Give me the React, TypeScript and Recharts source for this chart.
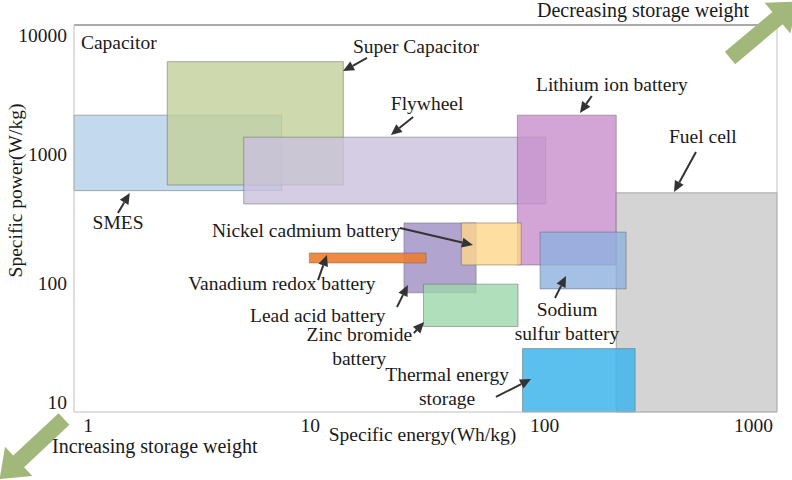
import { ComposedChart, XAxis, YAxis, ReferenceArea, ReferenceLine, ReferenceDot, Label } from 'recharts'

// storage technologies, specific energy (Wh/kg) vs specific power (W/kg)
const techNames = [
  'SMES',
  'Super Capacitor',
  'Flywheel',
  'Lithium ion battery',
  'Fuel cell',
  'Lead acid battery',
  'Nickel cadmium battery',
  'Vanadium redox battery',
  'Zinc bromide battery',
  'Sodium sulfur battery',
  'Thermal energy storage',
]
const energyLow = [1, 2.5, 5.3, 78, 206, 25.6, 45, 10.1, 31, 97.5, 82]
const energyHigh = [7.7, 14.1, 103, 206, 1000, 52, 81, 31.8, 78.5, 227, 248]
const powerLow = [520, 575, 410, 138, 10, 84, 138, 143, 46, 90, 10]
const powerHigh = [2000, 5200, 1350, 2000, 500, 292, 292, 171, 98, 248, 31]

const xTicks = [1, 10, 100, 1000]
const yTicks = [10, 100, 1000, 10000]

// annotation texts and where they sit (data coords of text baseline)
const labelText = [
  'Capacitor',
  'Super Capacitor',
  'Flywheel',
  'Lithium ion battery',
  'Fuel cell',
  'SMES',
  'Nickel cadmium battery',
  'Vanadium redox battery',
  'Lead acid battery',
  'Zinc bromide',
  'battery',
  'Thermal energy',
  'storage',
  'Sodium',
  'sulfur battery',
]
const labelEnergy = [1.07, 15.5, 22.5, 93.7, 346, 1.2, 3.88, 3.07, 5.64, 16.5, 16.5, 39.1, 39.1, 127, 127]
const labelPower = [6520, 6070, 2190, 3075, 1216, 262, 228, 88.3, 49.5, 35.6, 23.1, 17.4, 11.3, 55.5, 36.1]

// pointer arrows: tail -> tip
const arrowFromEnergy = [17.8, 28, 162, 451, 1.54, 24.6, 11.0, 23.9, 28.2, 63.2, 112.9]
const arrowFromPower = [5550, 1937, 2818, 1038, 349, 267, 105.4, 65.2, 40.9, 13.1, 76.6]
const arrowToEnergy = [14.06, 22.5, 144.3, 363.5, 1.73, 50.4, 12.0, 26.6, 31.2, 89.2, 125.8]
const arrowToPower = [4395, 1403, 2080, 507, 499, 197, 165, 96.5, 49.9, 18.0, 113.3]

const fills = ['#b4cfea', '#c3d09a', '#c9c0dd', '#c78fcc', '#cccccc', '#9d8fc4', '#ffd68a', '#ed7d31', '#9cd7aa', '#8fb0df', '#3fb5ec']
const opacities = [0.8, 0.8, 0.8, 0.8, 0.85, 0.8, 0.8, 0.9, 0.8, 0.8, 0.85]
const centered = new Set(['Zinc bromide', 'battery', 'Thermal energy', 'storage', 'Sodium', 'sulfur battery'])

const FONT = '"Liberation Serif", "Times New Roman", serif'
const INK = '#1a1a1a'

function XTick(props: any) {
  const { x, y, payload } = props
  const v = payload.value
  let dx = 2
  let anchor: 'middle' | 'end' = 'middle'
  if (v === 1) dx = 14
  if (v === 1000) { dx = -4; anchor = 'end' }
  return (
    <text x={x + dx} y={y + 20} textAnchor={anchor} fontSize={19.5} fontFamily={FONT} fill={INK}>
      {v}
    </text>
  )
}

function YTick(props: any) {
  const { x, y, payload } = props
  const v = payload.value
  let dy = 0
  if (v === 10000) dy = 10
  if (v === 10) dy = -10
  return (
    <text x={x - 7} y={y + dy} dy="0.35em" textAnchor="end" fontSize={19.5} fontFamily={FONT} fill={INK}>
      {v}
    </text>
  )
}

function ArrowShape(props: any) {
  const { x1, y1, x2, y2 } = props
  const ang = Math.atan2(y2 - y1, x2 - x1)
  const len = 11
  const half = 5
  const bx = x2 - len * Math.cos(ang)
  const by = y2 - len * Math.sin(ang)
  const px = -Math.sin(ang) * half
  const py = Math.cos(ang) * half
  return (
    <g>
      <line x1={x1} y1={y1} x2={bx} y2={by} stroke="#333" strokeWidth={2} />
      <polygon points={`${x2},${y2} ${bx + px},${by + py} ${bx - px},${by - py}`} fill="#333" />
    </g>
  )
}

function BigArrow({ x, y, angle }: { x: number; y: number; angle: number }) {
  const w = 8
  const shaft = 62
  const head = 26
  const hw = 20
  const pts = [
    [0, -w], [shaft, -w], [shaft, -hw], [shaft + head, 0], [shaft, hw], [shaft, w], [0, w],
  ].map((p) => p.join(',')).join(' ')
  return <polygon points={pts} fill="#a2b87a" transform={`translate(${x},${y}) rotate(${angle})`} />
}

export default function App() {
  return (
    <div style={{ position: 'absolute', left: 0, top: 0, width: 792, height: 480, background: '#fff', fontFamily: FONT }}>
      <ComposedChart width={792} height={480} margin={{ top: 25, right: 15, bottom: 0, left: 0 }}>
        <XAxis
          type="number"
          dataKey="x"
          scale="log"
          domain={[1, 1000]}
          ticks={xTicks}
          interval={0}
          allowDataOverflow
          height={68}
          axisLine={{ stroke: '#bfbfbf' }}
          tickLine={false}
          tickSize={0}
          tickMargin={0}
          tick={<XTick />}
        >
          <Label
            content={(p: any) => (
              <text x={p.viewBox.x + p.viewBox.width / 2 - 3} y={p.viewBox.y + 29} textAnchor="middle" fontSize={19.5} fontFamily={FONT} fill={INK}>
                Specific energy(Wh/kg)
              </text>
            )}
          />
        </XAxis>
        <YAxis
          type="number"
          dataKey="y"
          scale="log"
          domain={[10, 10000]}
          ticks={yTicks}
          interval={0}
          allowDataOverflow
          width={74}
          axisLine={{ stroke: '#bfbfbf' }}
          tickLine={false}
          tickSize={0}
          tickMargin={0}
          tick={<YTick />}
        >
          <Label
            content={(p: any) => {
              const cx = p.viewBox.x + 15
              const cy = p.viewBox.y + p.viewBox.height / 2 - 28
              return (
                <text x={cx} y={cy} dy="0.35em" transform={`rotate(-90, ${cx}, ${cy})`} textAnchor="middle" fontSize={19.5} fontFamily={FONT} fill={INK}>
                  Specific power(W/kg)
                </text>
              )
            }}
          />
        </YAxis>

        {techNames.map((name, i) => (
          <ReferenceArea
            key={name}
            x1={energyLow[i]}
            x2={energyHigh[i]}
            y1={powerLow[i]}
            y2={powerHigh[i]}
            fill={fills[i]}
            fillOpacity={opacities[i]}
            stroke="#666"
            strokeOpacity={0.5}
            strokeWidth={1}
            ifOverflow="visible"
          />
        ))}

        <ReferenceLine y={10000} stroke="#555" strokeWidth={1} ifOverflow="visible" />
        <ReferenceLine x={1000} stroke="#bfbfbf" strokeWidth={1} ifOverflow="visible" />

        {arrowFromEnergy.map((_, i) => (
          <ReferenceLine
            key={`arr-${i}`}
            segment={[
              { x: arrowFromEnergy[i], y: arrowFromPower[i] },
              { x: arrowToEnergy[i], y: arrowToPower[i] },
            ]}
            ifOverflow="visible"
            shape={ArrowShape}
          />
        ))}

        {labelText.map((t, i) => (
          <ReferenceDot
            key={`lbl-${i}`}
            x={labelEnergy[i]}
            y={labelPower[i]}
            ifOverflow="visible"
            shape={(p: any) => (
              <text x={p.cx} y={p.cy} textAnchor={centered.has(t) ? 'middle' : 'start'} fontSize={19.5} fontFamily={FONT} fill={INK}>
                {t}
              </text>
            )}
          />
        ))}
      </ComposedChart>

      <svg width={792} height={480} style={{ position: 'absolute', left: 0, top: 0, pointerEvents: 'none' }}>
        <BigArrow x={730} y={58} angle={-40} />
        <BigArrow x={64} y={419} angle={137} />
        <text x={537} y={17} fontSize={20} fontFamily={FONT} fill={INK}>Decreasing storage weight</text>
        <text x={52} y={453} fontSize={20} fontFamily={FONT} fill={INK}>Increasing storage weight</text>
      </svg>
    </div>
  )
}
